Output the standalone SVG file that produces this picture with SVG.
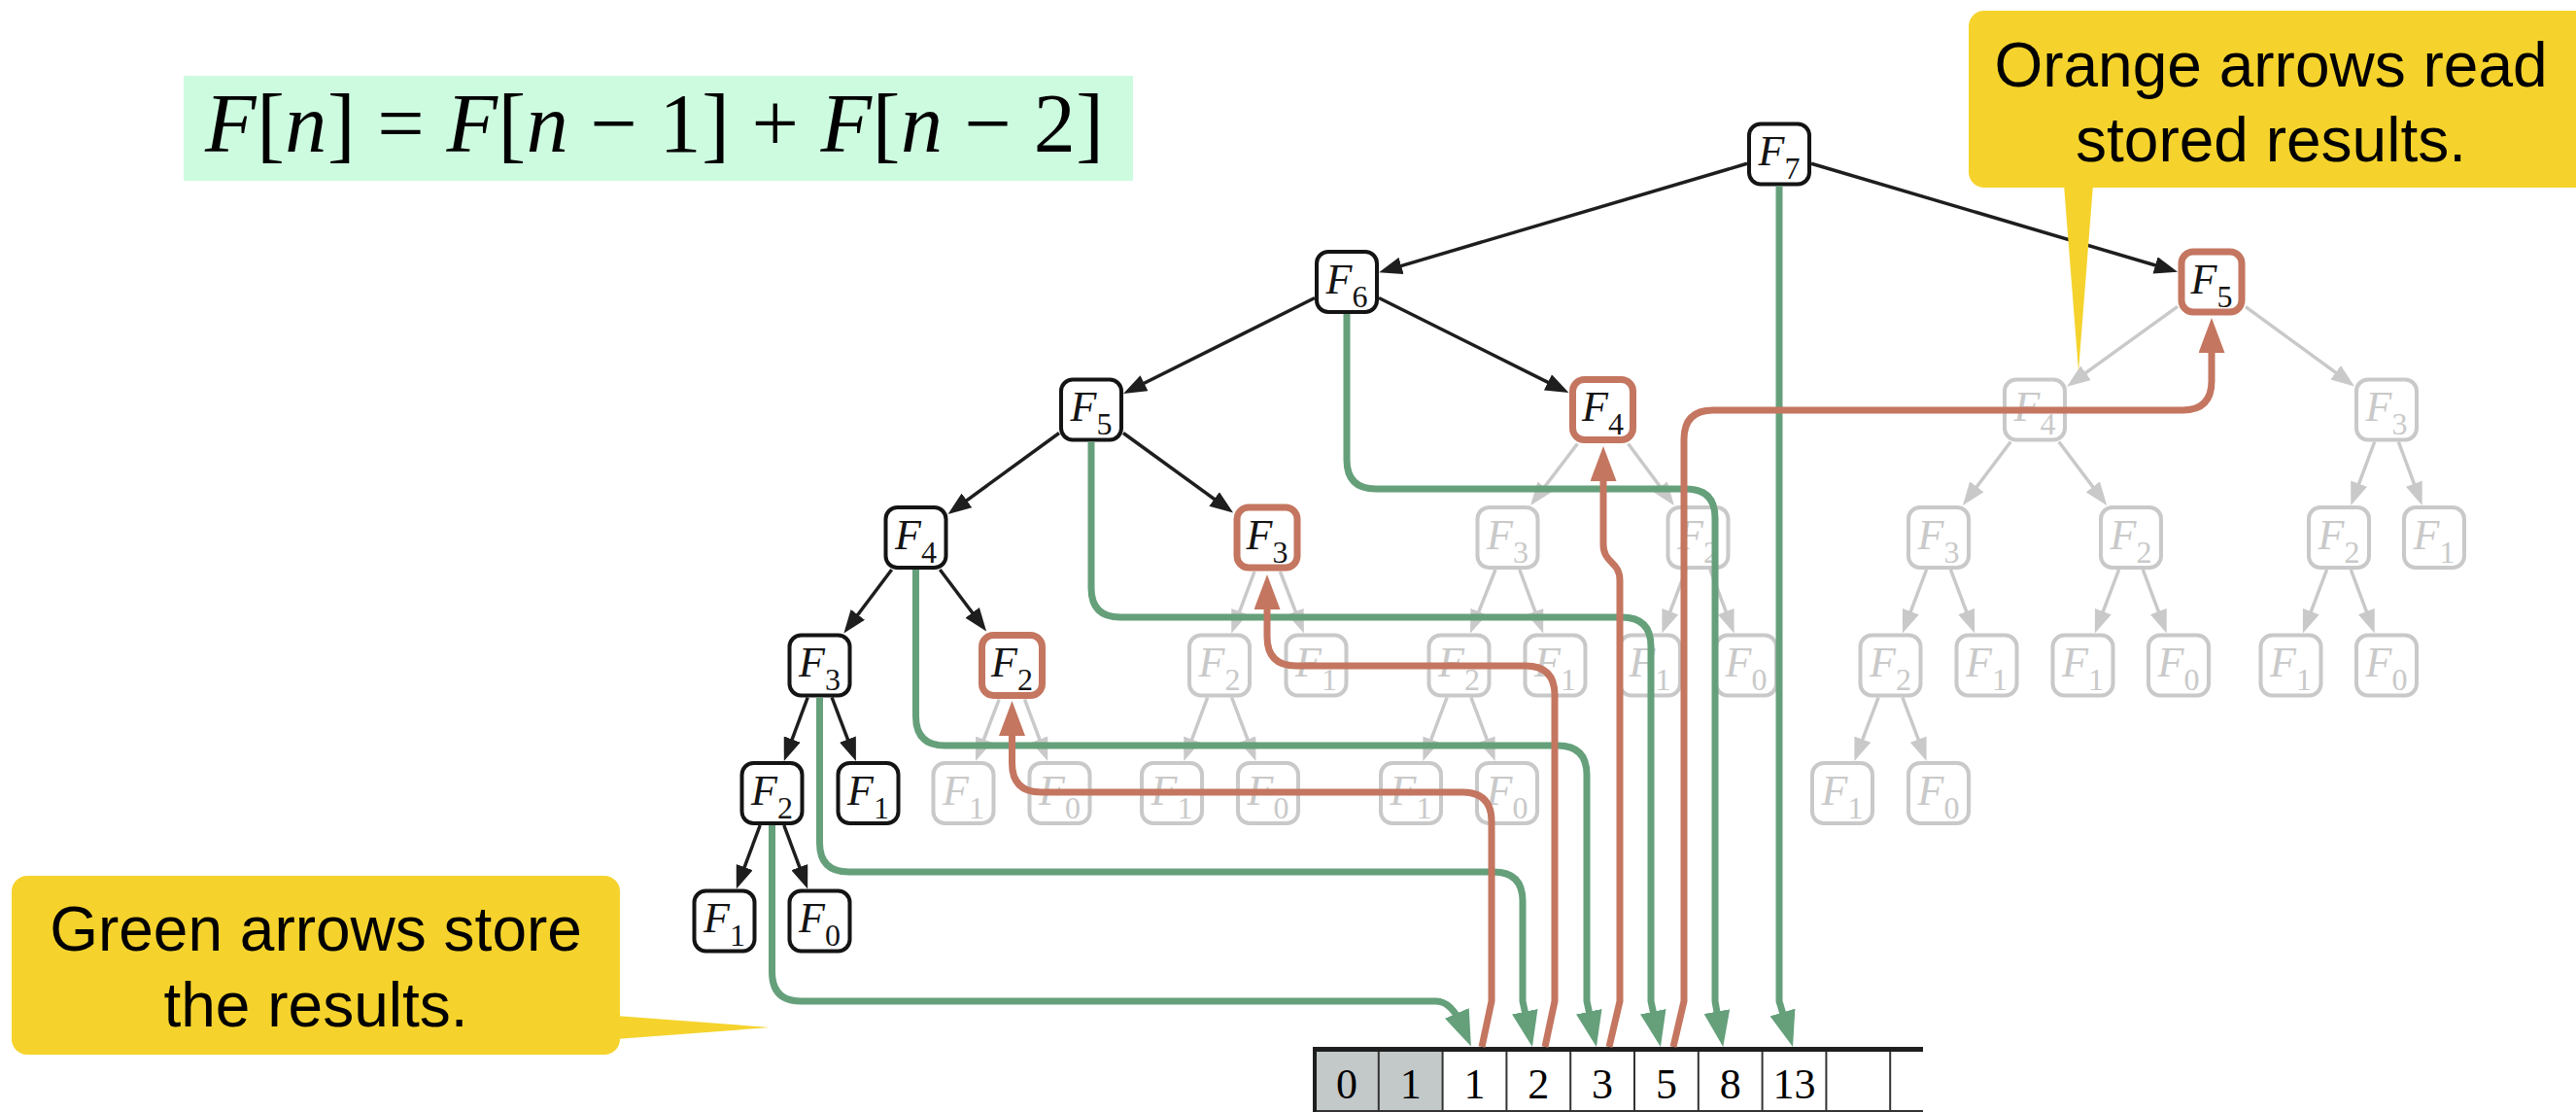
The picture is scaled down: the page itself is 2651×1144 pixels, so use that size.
<svg xmlns="http://www.w3.org/2000/svg" width="2651" height="1144" viewBox="0 0 2651 1144">
<defs>
<style>
.nd rect{fill:#fff;stroke-width:4}
.nb rect{stroke:#141414}
.no rect{stroke:#c47660;stroke-width:7}
.ng rect{stroke:#c9c9c9}
.nd text{font-family:"Liberation Serif",serif;text-anchor:middle;fill:#141414}
.ng text{fill:#c9c9c9}
.f{font-style:italic;font-size:44px}
.s{font-size:32px}
.eb{stroke:#1e1e1e;stroke-width:3.5;fill:none;marker-end:url(#ab)}
.eg{stroke:#c9c9c9;stroke-width:3.5;fill:none;marker-end:url(#agr)}
.gp{stroke:#65a07b;stroke-width:7;fill:none;marker-end:url(#agn)}
.op{stroke:#c47660;stroke-width:7;fill:none;marker-end:url(#aor)}
.call{fill:#f5d32c}
.ct{font-family:"Liberation Sans",Arial,sans-serif;font-size:64px;text-anchor:middle;fill:#000}
.cell{font-family:"Liberation Serif",serif;font-size:44px;text-anchor:middle;fill:#000}
</style>
<marker id="ab" markerUnits="userSpaceOnUse" markerWidth="24" markerHeight="18" viewBox="0 0 24 18" refX="18" refY="9" orient="auto"><path d="M0,0 L24,9 L0,18 z" fill="#1e1e1e"/></marker>
<marker id="agr" markerUnits="userSpaceOnUse" markerWidth="24" markerHeight="18" viewBox="0 0 24 18" refX="18" refY="9" orient="auto"><path d="M0,0 L24,9 L0,18 z" fill="#c9c9c9"/></marker>
<marker id="agn" markerUnits="userSpaceOnUse" markerWidth="37" markerHeight="27" viewBox="0 0 37 27" refX="17" refY="13.5" orient="auto"><path d="M0,0 L37,13.5 L0,27 z" fill="#65a07b"/></marker>
<marker id="aor" markerUnits="userSpaceOnUse" markerWidth="36" markerHeight="27" viewBox="0 0 36 27" refX="16" refY="13.5" orient="auto"><path d="M0,0 L36,13.5 L0,27 z" fill="#c47660"/></marker>
</defs>

<g id="equation">
<rect x="189" y="78" width="977" height="108" fill="#cdfbe0"/>
<text x="211" y="156" font-family="Liberation Serif,serif" font-size="86" textLength="925" lengthAdjust="spacing" fill="#000"><tspan font-style="italic">F</tspan>[<tspan font-style="italic">n</tspan>] = <tspan font-style="italic">F</tspan>[<tspan font-style="italic">n</tspan> − 1] + <tspan font-style="italic">F</tspan>[<tspan font-style="italic">n</tspan> − 2]</text>
</g>

<g id="gray-edges">
<path class="eg" d="M2241,315.3 L2131.9,394.2"/>
<path class="eg" d="M2311,315.6 L2418.2,393.9"/>
<path class="eg" d="M1623.4,456.5 L1578.7,515.2"/>
<path class="eg" d="M1675.6,456.5 L1719.3,515.2"/>
<path class="eg" d="M2069.2,454.5 L2023.5,515.2"/>
<path class="eg" d="M2118.8,454.5 L2164.6,515.2"/>
<path class="eg" d="M2443.7,454.5 L2421.4,514.4"/>
<path class="eg" d="M2468.3,454.5 L2490.6,514.4"/>
<path class="eg" d="M1291,588 L1269.4,645.9"/>
<path class="eg" d="M1317.4,588 L1339.7,645.9"/>
<path class="eg" d="M1539,586 L1515.2,645.9"/>
<path class="eg" d="M1563.8,586 L1586.1,645.9"/>
<path class="eg" d="M1735.1,586 L1712.5,645.9"/>
<path class="eg" d="M1759.9,586 L1782.5,645.9"/>
<path class="eg" d="M1982.6,586 L1960,645.9"/>
<path class="eg" d="M2007.4,586 L2030,645.9"/>
<path class="eg" d="M2180.6,586 L2158,645.9"/>
<path class="eg" d="M2205.3,586 L2227.6,645.9"/>
<path class="eg" d="M2394.6,586 L2372,645.9"/>
<path class="eg" d="M2419.3,586 L2441.6,645.9"/>
<path class="eg" d="M1028.2,719.5 L1006.1,777.4"/>
<path class="eg" d="M1054.5,719.5 L1076.1,777.4"/>
<path class="eg" d="M1242.7,717.5 L1220.4,777.4"/>
<path class="eg" d="M1267.6,717.5 L1290.3,777.4"/>
<path class="eg" d="M1489.1,717.5 L1466.5,777.4"/>
<path class="eg" d="M1513.9,717.5 L1536.5,777.4"/>
<path class="eg" d="M1933.1,717.5 L1910.5,777.4"/>
<path class="eg" d="M1957.9,717.5 L1980.5,777.4"/>
</g>

<g id="black-edges">
<path class="eb" d="M1798,168.3 L1424.8,278.6"/>
<path class="eb" d="M1864,168.3 L2235.3,278"/>
<path class="eb" d="M1353,306.5 L1161.4,402.3"/>
<path class="eb" d="M1419,306.5 L1609.1,401.4"/>
<path class="eb" d="M1090,445.5 L980.4,525.4"/>
<path class="eb" d="M1156,445.5 L1264.2,524"/>
<path class="eb" d="M917.7,586 L872,646.7"/>
<path class="eb" d="M967.3,586 L1011.5,644.7"/>
<path class="eb" d="M831.2,717.5 L808.9,777.4"/>
<path class="eb" d="M856.1,717.5 L878.8,777.4"/>
<path class="eb" d="M782.2,849 L759.9,908.9"/>
<path class="eb" d="M806.8,849 L829.1,908.9"/>
</g>

<g id="nodes">
<g id="n7" class="nd nb" transform="translate(1831,158.5)"><rect x="-31" y="-31" width="62" height="62" rx="12"/><text y="11.5"><tspan class="f">F</tspan><tspan class="s" dy="14">7</tspan></text></g>
<g id="n6" class="nd nb" transform="translate(1386,290)"><rect x="-31" y="-31" width="62" height="62" rx="12"/><text y="11.5"><tspan class="f">F</tspan><tspan class="s" dy="14">6</tspan></text></g>
<g id="n5r" class="nd no" transform="translate(2276,290)"><rect x="-31" y="-31" width="62" height="62" rx="12"/><text y="11.5"><tspan class="f">F</tspan><tspan class="s" dy="14">5</tspan></text></g>
<g id="n5" class="nd nb" transform="translate(1123,421.5)"><rect x="-31" y="-31" width="62" height="62" rx="12"/><text y="11.5"><tspan class="f">F</tspan><tspan class="s" dy="14">5</tspan></text></g>
<g id="n4r" class="nd no" transform="translate(1649.5,421.5)"><rect x="-31" y="-31" width="62" height="62" rx="12"/><text y="11.5"><tspan class="f">F</tspan><tspan class="s" dy="14">4</tspan></text></g>
<g id="g4a" class="nd ng" transform="translate(2094,421.5)"><rect x="-31" y="-31" width="62" height="62" rx="12"/><text y="11.5"><tspan class="f">F</tspan><tspan class="s" dy="14">4</tspan></text></g>
<g id="g3a" class="nd ng" transform="translate(2456,421.5)"><rect x="-31" y="-31" width="62" height="62" rx="12"/><text y="11.5"><tspan class="f">F</tspan><tspan class="s" dy="14">3</tspan></text></g>
<g id="n4" class="nd nb" transform="translate(942.5,553)"><rect x="-31" y="-31" width="62" height="62" rx="12"/><text y="11.5"><tspan class="f">F</tspan><tspan class="s" dy="14">4</tspan></text></g>
<g id="n3r" class="nd no" transform="translate(1304,553)"><rect x="-31" y="-31" width="62" height="62" rx="12"/><text y="11.5"><tspan class="f">F</tspan><tspan class="s" dy="14">3</tspan></text></g>
<g id="g3b" class="nd ng" transform="translate(1551.5,553)"><rect x="-31" y="-31" width="62" height="62" rx="12"/><text y="11.5"><tspan class="f">F</tspan><tspan class="s" dy="14">3</tspan></text></g>
<g id="g2b" class="nd ng" transform="translate(1747.5,553)"><rect x="-31" y="-31" width="62" height="62" rx="12"/><text y="11.5"><tspan class="f">F</tspan><tspan class="s" dy="14">2</tspan></text></g>
<g id="g3c" class="nd ng" transform="translate(1995,553)"><rect x="-31" y="-31" width="62" height="62" rx="12"/><text y="11.5"><tspan class="f">F</tspan><tspan class="s" dy="14">3</tspan></text></g>
<g id="g2c" class="nd ng" transform="translate(2193,553)"><rect x="-31" y="-31" width="62" height="62" rx="12"/><text y="11.5"><tspan class="f">F</tspan><tspan class="s" dy="14">2</tspan></text></g>
<g id="g2d" class="nd ng" transform="translate(2407,553)"><rect x="-31" y="-31" width="62" height="62" rx="12"/><text y="11.5"><tspan class="f">F</tspan><tspan class="s" dy="14">2</tspan></text></g>
<g id="g1d" class="nd ng" transform="translate(2505,553)"><rect x="-31" y="-31" width="62" height="62" rx="12"/><text y="11.5"><tspan class="f">F</tspan><tspan class="s" dy="14">1</tspan></text></g>
<g id="n3" class="nd nb" transform="translate(843.5,684.5)"><rect x="-31" y="-31" width="62" height="62" rx="12"/><text y="11.5"><tspan class="f">F</tspan><tspan class="s" dy="14">3</tspan></text></g>
<g id="n2r" class="nd no" transform="translate(1041.5,684.5)"><rect x="-31" y="-31" width="62" height="62" rx="12"/><text y="11.5"><tspan class="f">F</tspan><tspan class="s" dy="14">2</tspan></text></g>
<g id="g2e" class="nd ng" transform="translate(1255,684.5)"><rect x="-31" y="-31" width="62" height="62" rx="12"/><text y="11.5"><tspan class="f">F</tspan><tspan class="s" dy="14">2</tspan></text></g>
<g id="g1e" class="nd ng" transform="translate(1354.5,684.5)"><rect x="-31" y="-31" width="62" height="62" rx="12"/><text y="11.5"><tspan class="f">F</tspan><tspan class="s" dy="14">1</tspan></text></g>
<g id="g2f" class="nd ng" transform="translate(1501.5,684.5)"><rect x="-31" y="-31" width="62" height="62" rx="12"/><text y="11.5"><tspan class="f">F</tspan><tspan class="s" dy="14">2</tspan></text></g>
<g id="g1f" class="nd ng" transform="translate(1600.5,684.5)"><rect x="-31" y="-31" width="62" height="62" rx="12"/><text y="11.5"><tspan class="f">F</tspan><tspan class="s" dy="14">1</tspan></text></g>
<g id="g1g" class="nd ng" transform="translate(1698,684.5)"><rect x="-31" y="-31" width="62" height="62" rx="12"/><text y="11.5"><tspan class="f">F</tspan><tspan class="s" dy="14">1</tspan></text></g>
<g id="g0g" class="nd ng" transform="translate(1797,684.5)"><rect x="-31" y="-31" width="62" height="62" rx="12"/><text y="11.5"><tspan class="f">F</tspan><tspan class="s" dy="14">0</tspan></text></g>
<g id="g2h" class="nd ng" transform="translate(1945.5,684.5)"><rect x="-31" y="-31" width="62" height="62" rx="12"/><text y="11.5"><tspan class="f">F</tspan><tspan class="s" dy="14">2</tspan></text></g>
<g id="g1h" class="nd ng" transform="translate(2044.5,684.5)"><rect x="-31" y="-31" width="62" height="62" rx="12"/><text y="11.5"><tspan class="f">F</tspan><tspan class="s" dy="14">1</tspan></text></g>
<g id="g1i" class="nd ng" transform="translate(2143.5,684.5)"><rect x="-31" y="-31" width="62" height="62" rx="12"/><text y="11.5"><tspan class="f">F</tspan><tspan class="s" dy="14">1</tspan></text></g>
<g id="g0i" class="nd ng" transform="translate(2242,684.5)"><rect x="-31" y="-31" width="62" height="62" rx="12"/><text y="11.5"><tspan class="f">F</tspan><tspan class="s" dy="14">0</tspan></text></g>
<g id="g1j" class="nd ng" transform="translate(2357.5,684.5)"><rect x="-31" y="-31" width="62" height="62" rx="12"/><text y="11.5"><tspan class="f">F</tspan><tspan class="s" dy="14">1</tspan></text></g>
<g id="g0j" class="nd ng" transform="translate(2456,684.5)"><rect x="-31" y="-31" width="62" height="62" rx="12"/><text y="11.5"><tspan class="f">F</tspan><tspan class="s" dy="14">0</tspan></text></g>
<g id="n2" class="nd nb" transform="translate(794.5,816)"><rect x="-31" y="-31" width="62" height="62" rx="12"/><text y="11.5"><tspan class="f">F</tspan><tspan class="s" dy="14">2</tspan></text></g>
<g id="n1" class="nd nb" transform="translate(893.5,816)"><rect x="-31" y="-31" width="62" height="62" rx="12"/><text y="11.5"><tspan class="f">F</tspan><tspan class="s" dy="14">1</tspan></text></g>
<g id="g1k" class="nd ng" transform="translate(991.5,816)"><rect x="-31" y="-31" width="62" height="62" rx="12"/><text y="11.5"><tspan class="f">F</tspan><tspan class="s" dy="14">1</tspan></text></g>
<g id="g0k" class="nd ng" transform="translate(1090.5,816)"><rect x="-31" y="-31" width="62" height="62" rx="12"/><text y="11.5"><tspan class="f">F</tspan><tspan class="s" dy="14">0</tspan></text></g>
<g id="g1l" class="nd ng" transform="translate(1206,816)"><rect x="-31" y="-31" width="62" height="62" rx="12"/><text y="11.5"><tspan class="f">F</tspan><tspan class="s" dy="14">1</tspan></text></g>
<g id="g0l" class="nd ng" transform="translate(1305,816)"><rect x="-31" y="-31" width="62" height="62" rx="12"/><text y="11.5"><tspan class="f">F</tspan><tspan class="s" dy="14">0</tspan></text></g>
<g id="g1m" class="nd ng" transform="translate(1452,816)"><rect x="-31" y="-31" width="62" height="62" rx="12"/><text y="11.5"><tspan class="f">F</tspan><tspan class="s" dy="14">1</tspan></text></g>
<g id="g0m" class="nd ng" transform="translate(1551,816)"><rect x="-31" y="-31" width="62" height="62" rx="12"/><text y="11.5"><tspan class="f">F</tspan><tspan class="s" dy="14">0</tspan></text></g>
<g id="g1n" class="nd ng" transform="translate(1896,816)"><rect x="-31" y="-31" width="62" height="62" rx="12"/><text y="11.5"><tspan class="f">F</tspan><tspan class="s" dy="14">1</tspan></text></g>
<g id="g0n" class="nd ng" transform="translate(1995,816)"><rect x="-31" y="-31" width="62" height="62" rx="12"/><text y="11.5"><tspan class="f">F</tspan><tspan class="s" dy="14">0</tspan></text></g>
<g id="n1b" class="nd nb" transform="translate(745.5,947.5)"><rect x="-31" y="-31" width="62" height="62" rx="12"/><text y="11.5"><tspan class="f">F</tspan><tspan class="s" dy="14">1</tspan></text></g>
<g id="n0b" class="nd nb" transform="translate(843.5,947.5)"><rect x="-31" y="-31" width="62" height="62" rx="12"/><text y="11.5"><tspan class="f">F</tspan><tspan class="s" dy="14">0</tspan></text></g>
</g>

<g id="array">
<rect x="1353" y="1079" width="131.6" height="64" fill="#c3c8c8"/>
<g stroke="#333" stroke-width="2">
<line x1="1418.8" y1="1079" x2="1418.8" y2="1144"/>
<line x1="1484.6" y1="1079" x2="1484.6" y2="1144"/>
<line x1="1550.4" y1="1079" x2="1550.4" y2="1144"/>
<line x1="1616.2" y1="1079" x2="1616.2" y2="1144"/>
<line x1="1682" y1="1079" x2="1682" y2="1144"/>
<line x1="1747.8" y1="1079" x2="1747.8" y2="1144"/>
<line x1="1813.6" y1="1079" x2="1813.6" y2="1144"/>
<line x1="1879.4" y1="1079" x2="1879.4" y2="1144"/>
<line x1="1945.2" y1="1079" x2="1945.2" y2="1144"/>
<line x1="1353" y1="1143" x2="1979" y2="1143"/>
</g>
<line x1="1353" y1="1077" x2="1353" y2="1144" stroke="#1e1e1e" stroke-width="4"/>
<line x1="1351" y1="1079.5" x2="1979" y2="1079.5" stroke="#1e1e1e" stroke-width="5"/>
<text class="cell" x="1385.9" y="1130">0</text>
<text class="cell" x="1451.7" y="1130">1</text>
<text class="cell" x="1517.5" y="1130">1</text>
<text class="cell" x="1583.3" y="1130">2</text>
<text class="cell" x="1649.1" y="1130">3</text>
<text class="cell" x="1714.9" y="1130">5</text>
<text class="cell" x="1780.7" y="1130">8</text>
<text class="cell" x="1846.5" y="1130">13</text>
</g>

<g id="connectors">
<path class="gp" d="M794.5,849 V1000 Q794.5,1030 824.5,1030 H1478 Q1494,1030 1506,1058"/>
<path class="gp" d="M843.5,717.5 V867 Q843.5,897 873.5,897 H1537 Q1567,897 1567,927 V1030 L1572.8,1057.4"/>
<path class="gp" d="M942.5,586 V737 Q942.5,767 972.5,767 H1603 Q1633,767 1633,797 V1030 L1638.8,1057.4"/>
<path class="gp" d="M1123,454.5 V605 Q1123,635 1153,635 H1669 Q1699,635 1699,665 V1030 L1704.8,1057.4"/>
<path class="gp" d="M1386,323 V473 Q1386,503 1416,503 H1735 Q1765,503 1765,533 V1030 L1769.8,1057.4"/>
<path class="gp" d="M1831,191.5 V1030 L1839.3,1057.8"/>
<path class="op" d="M1525,1077 L1535,1030 V845 Q1535,815 1505,815 H1071.5 Q1041.5,815 1041.5,785 V741"/>
<path class="op" d="M1590,1077 L1600,1030 V715 Q1600,685 1570,685 H1334 Q1304,685 1304,655 V611"/>
<path class="op" d="M1656,1077 L1667,1030 V597 C1667,577 1650,580 1650,560 V479"/>
<path class="op" d="M1722,1077 L1733,1030 V452 Q1733,422 1763,422 H2246 Q2276,422 2276,392 V347"/>
</g>

<g id="callout-orange">
<rect class="call" x="2026" y="11" width="640" height="182" rx="16"/>
<path class="call" d="M2124,190 L2154,190 L2139,382 Z"/>
<text class="ct" x="2337" y="89">Orange arrows read</text>
<text class="ct" x="2337" y="166">stored results.</text>
</g>

<g id="callout-green">
<rect class="call" x="12" y="901" width="626" height="184" rx="16"/>
<path class="call" d="M634,1045 L792,1057 L634,1069 Z"/>
<text class="ct" x="325" y="978">Green arrows store</text>
<text class="ct" x="325" y="1056">the results.</text>
</g>
</svg>
